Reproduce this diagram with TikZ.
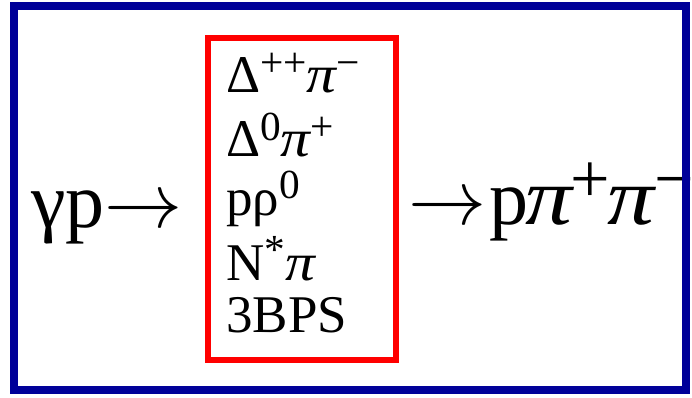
\documentclass[tikz,border=0pt]{standalone}
\usepackage{fontspec}
\setmainfont{Liberation Serif}
\usepackage{graphicx}
\definecolor{frameblue}{RGB}{0,0,153}
\newcommand{\spx}[1]{\raisebox{0.32em}{\scalebox{0.78}{#1}}}
\newcommand{\bspx}[1]{\raisebox{0.28em}{\scalebox{0.9}{#1}}}
\newcommand{\ipi}{\scalebox{1.12}[1]{\itshape π}}
\newcommand{\wpi}{\scalebox{1.2}[1.04]{\itshape π}}
\newcommand{\arr}{{\fontsize{10}{12}\selectfont\scalebox{7.8}{$\rightarrow$}}}
\begin{document}
\begin{tikzpicture}[x=1pt,y=-1pt,
  big/.style={inner sep=0pt, anchor=base west, font=\fontsize{78}{80}\selectfont},
  item/.style={inner sep=0pt, anchor=base west, font=\fontsize{53}{60}\selectfont},
  redbox/.style={draw=red, line width=6pt, inner sep=0pt},
  outerframe/.style={draw=frameblue, line width=8pt}]
\useasboundingbox (0,0) rectangle (692,398);
\node[redbox, minimum width=188.5pt, minimum height=321.5pt] (box) at (301.75,199.25) {};
\node[big] (lhs) at (31,227) {γp\arr};
\node[big] (rhs) at (408,224) {\arr\kern3pt p\kern-3pt\wpi\kern-2pt\bspx{+}\kern-2pt\wpi\bspx{−}};
\node[item] (l1) at (226,93) {Δ\spx{++}\ipi\spx{−}};
\node[item] (l2) at (226,157) {Δ\spx{0}\ipi\spx{+}};
\node[item] (l3) at (226,215) {pρ\spx{0}};
\node[item] (l4) at (226,280) {N\spx{*}\ipi};
\node[item] (l5) at (226,332) {3BPS};
\draw[outerframe] (14,6) rectangle (686,389.5);
\end{tikzpicture}
\end{document}
